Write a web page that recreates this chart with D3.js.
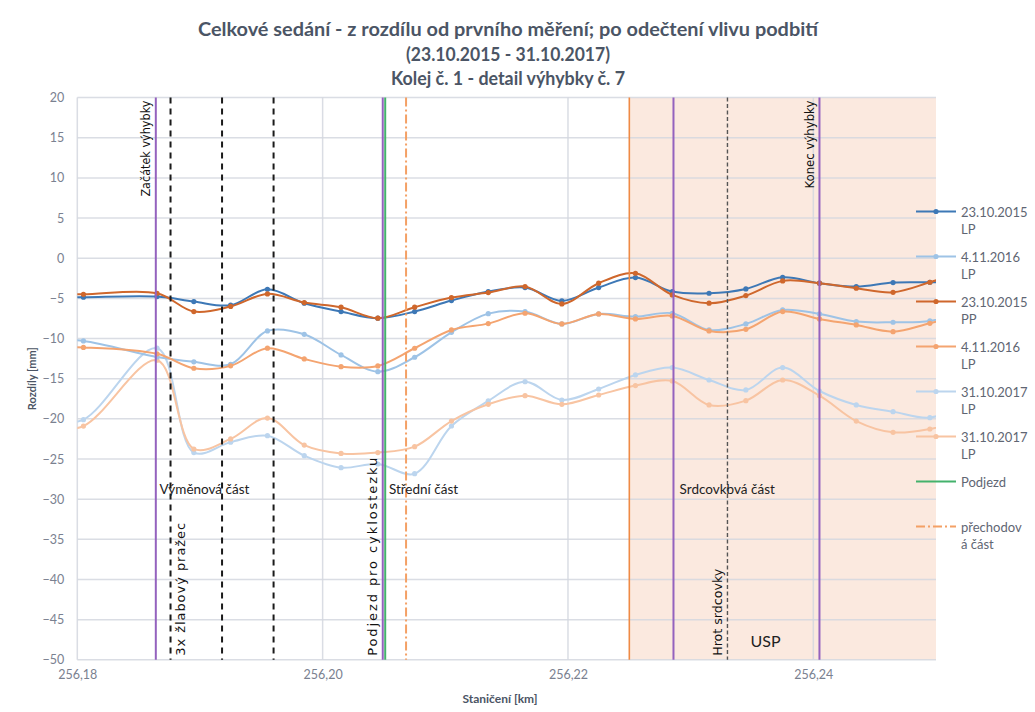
<!DOCTYPE html>
<html><head><meta charset="utf-8">
<script src="https://cdn.jsdelivr.net/npm/d3@7"></script>
<style>
body{margin:0;background:#fff;}
svg{display:block;font-family:Lato,"Open Sans",sans-serif;}
</style></head>
<body><svg id="chart" width="1035" height="712"></svg>
<script>
// ---- data ----
const stations = [256.1775, 256.1805, 256.1865, 256.1895, 256.1925, 256.1955, 256.1985, 256.2015, 256.2045, 256.2075, 256.2105, 256.2135, 256.2165, 256.2195, 256.2225, 256.2255, 256.2285, 256.2315, 256.2345, 256.2375, 256.2405, 256.2435, 256.2465, 256.2495, 256.2525];
const s2015LP = [-4.9, -4.86, -4.78, -5.4, -5.85, -3.86, -5.6, -6.64, -7.47, -6.64, -5.27, -4.15, -3.65, -5.32, -3.65, -2.41, -4.15, -4.36, -3.82, -2.37, -3.11, -3.53, -3.03, -2.99, -2.9];
const s2016LPblue = [-10.2, -10.3, -12.3, -12.9, -13.2, -9.05, -9.47, -12.04, -14.12, -12.33, -9.22, -6.9, -6.64, -8.18, -6.94, -7.27, -6.85, -8.93, -8.18, -6.44, -6.94, -7.89, -7.97, -7.81, -6.5];
const s2015PP = [-4.5, -4.49, -4.36, -6.64, -6.0, -4.44, -5.52, -6.1, -7.47, -6.1, -4.9, -4.28, -3.53, -5.69, -3.11, -1.87, -4.57, -5.6, -4.65, -2.82, -3.11, -3.74, -4.24, -2.99, -1.5];
const s2016LPorange = [-11.1, -11.1, -11.9, -13.7, -13.4, -11.2, -12.54, -13.5, -13.41, -11.21, -8.93, -8.14, -6.85, -8.18, -6.94, -7.56, -7.18, -9.05, -8.85, -6.64, -7.56, -8.31, -9.14, -8.1, -7.0];
const s2017LPblue = [-20.5, -20.1, -11.2, -24.2, -22.9, -22.1, -24.58, -26.08, -25.62, -26.83, -20.89, -17.77, -15.37, -17.65, -16.28, -14.53, -13.62, -15.16, -16.4, -13.62, -16.53, -18.27, -19.1, -19.85, -18.0];
const s2017LPorange = [-21.3, -20.9, -12.7, -23.75, -22.5, -19.9, -23.26, -24.3, -24.2, -23.46, -20.27, -18.19, -17.11, -18.19, -17.03, -15.86, -15.28, -18.27, -17.73, -15.16, -17.11, -20.27, -21.68, -21.26, -20.0];

const seriesNames = ["23.10.2015|LP", "4.11.2016|LP", "23.10.2015|PP", "4.11.2016|LP", "31.10.2017|LP", "31.10.2017|LP"];
const seriesColors = ["#3D78B6", "#9EC3E6", "#CF672C", "#F4A470", "#BCD5EE", "#F8C4A2"];
const seriesValues = [s2015LP, s2016LPblue, s2015PP, s2016LPorange, s2017LPblue, s2017LPorange];

const xTicks = [256.18, 256.20, 256.22, 256.24];
const yTicks = [20, 15, 10, 5, 0, -5, -10, -15, -20, -25, -30, -35, -40, -45, -50];

const purpleLines = [256.1864, 256.2049, 256.2286, 256.2405];
const blackDashed = [256.1876, 256.1918, 256.1960];
const greenLine = [256.2051];
const orangeSolid = [256.2250];
const orangeDashDot = [256.2068];
const grayDashed = [256.2330];
const uspRange = [256.2250, 256.25];

const titleLines = ["Celkové sedání - z rozdílu od prvního měření; po odečtení vlivu podbití", "(23.10.2015 - 31.10.2017)", "Kolej č. 1 - detail výhybky č. 7"];
const rotatedLabels = [
  {t: "Začátek výhybky", km: 256.1864, side: -1, top: true},
  {t: "3x žlabový pražec", km: 256.1876, side: 1, top: false},
  {t: "Podjezd pro cyklostezku", km: 256.2049, side: -1, top: false},
  {t: "Hrot srdcovky", km: 256.2330, side: -1, top: false},
  {t: "Konec výhybky", km: 256.2405, side: -1, top: true}
];
const sectionLabels = [
  {t: "Výměnová část", km: 256.1867, v: -29.3},
  {t: "Střední část", km: 256.2054, v: -29.3},
  {t: "Srdcovkbvá část", km: 256.2291, v: -29.3}
];

// ---- chart ----
const svg = d3.select("#chart");
const L = 77.3, R = 936, T = 97.6, B = 659.8;
const x = d3.scaleLinear().domain([256.18, 256.25]).range([L, R]);
const y = d3.scaleLinear().domain([-50, 20]).range([B, T]);

svg.append("defs").append("clipPath").attr("id", "clip")
  .append("rect").attr("x", L).attr("y", T).attr("width", R - L).attr("height", B - T);

// USP shading
svg.append("rect").attr("x", x(uspRange[0])).attr("y", T)
  .attr("width", x(uspRange[1]) - x(uspRange[0])).attr("height", B - T)
  .attr("fill", "#FBE9DF");

// gridlines
const grid = svg.append("g");
grid.selectAll("line.h").data(yTicks).join("line")
  .attr("x1", L).attr("x2", R).attr("y1", d => y(d)).attr("y2", d => y(d))
  .attr("stroke", "#D3D7DF").attr("stroke-opacity", 0.85).attr("stroke-width", 1.5);
grid.selectAll("line.v").data(xTicks).join("line")
  .attr("y1", T).attr("y2", B).attr("x1", d => x(d)).attr("x2", d => x(d))
  .attr("stroke", "#D3D7DF").attr("stroke-opacity", 0.85).attr("stroke-width", 1.5);

// axes
const yAxis = d3.axisLeft(y).tickValues(yTicks).tickSize(0).tickPadding(13);
const gy = svg.append("g").attr("transform", `translate(${L},0)`).call(yAxis);
gy.select(".domain").remove();
gy.selectAll("text").attr("fill", "#7A8190").attr("font-size", 12.5).attr("font-family", "Lato, sans-serif");

const xAxis = d3.axisBottom(x).tickValues(xTicks).tickSize(0).tickPadding(10)
  .tickFormat(d => d3.format(".2f")(d).replace(".", ","));
const gx = svg.append("g").attr("transform", `translate(0,${B})`).call(xAxis);
gx.select(".domain").remove();
gx.selectAll("text").attr("fill", "#7A8190").attr("font-size", 12.5).attr("font-family", "Lato, sans-serif");

// series
const plot = svg.append("g").attr("clip-path", "url(#clip)");
const line = d3.line().x((d, i) => x(stations[i])).y(d => y(d)).curve(d3.curveCatmullRom.alpha(0.5));
const order = [4, 5, 1, 3, 0, 2];
order.forEach(si => {
  const vals = seriesValues[si];
  plot.append("path").datum(vals).attr("d", line)
    .attr("fill", "none").attr("stroke", seriesColors[si]).attr("stroke-width", 2);
  plot.selectAll(null).data(vals.map((v, i) => [stations[i], v])).join("circle")
    .attr("cx", d => x(d[0])).attr("cy", d => y(d[1])).attr("r", 2.6)
    .attr("fill", seriesColors[si]);
});

// vertical marker lines
const vl = svg.append("g");
function vlines(arr, color, w, dash) {
  vl.selectAll(null).data(arr).join("line")
    .attr("x1", d => x(d)).attr("x2", d => x(d)).attr("y1", T).attr("y2", B)
    .attr("stroke", color).attr("stroke-width", w).attr("stroke-dasharray", dash || null);
}
vlines(orangeSolid, "#EF8A45", 1.6);
vlines(grayDashed, "#555555", 1.4, "4,2.5");
vlines(blackDashed, "#1A1A1A", 2, "6,5");
vlines(orangeDashDot, "#F4A065", 2, "9,3,2,3");
vlines(purpleLines, "#9462BE", 2);
vlines(greenLine, "#44B26C", 2);

// rotated labels
const rotLen = {"Začátek výhybky": 96, "3x žlabový pražec": 133, "Podjezd pro cyklostezku": 198, "Hrot srdcovky": 87, "Konec výhybky": 88};
const rotSize = {"Začátek výhybky": 12, "3x žlabový pražec": 13, "Podjezd pro cyklostezku": 13, "Hrot srdcovky": 12, "Konec výhybky": 12};
const rotAdj = {"Začátek výhybky": "spacingAndGlyphs", "3x žlabový pražec": "spacing", "Podjezd pro cyklostezku": "spacing", "Hrot srdcovky": "spacingAndGlyphs", "Konec výhybky": "spacingAndGlyphs"};
svg.append("g").selectAll("text").data(rotatedLabels).join("text")
  .attr("transform", d => {
    const px = x(d.km) + d.side * 10;
    const py = d.top ? T + 3 : B - 4;
    return `translate(${px},${py}) rotate(-90)`;
  })
  .attr("text-anchor", d => d.top ? "end" : "start")
  .attr("dy", "0.35em")
  .attr("font-family", "DejaVu Sans, Verdana, sans-serif")
  .attr("font-size", d => rotSize[d.t]).attr("fill", "#111")
  .attr("textLength", d => rotLen[d.t]).attr("lengthAdjust", d => rotAdj[d.t])
  .text(d => d.t);

// section labels
svg.append("g").selectAll("text").data(sectionLabels).join("text")
  .attr("x", d => x(d.km)).attr("y", d => y(d.v))
  .attr("font-size", 13.5).attr("fill", "#222")
  .text(d => d.t);

svg.append("text").attr("x", x(256.2361)).attr("y", y(-48.4))
  .attr("text-anchor", "middle").attr("font-size", 16).attr("fill", "#222").text("USP");

// titles
const titleLen = [620, 204, 234];
svg.append("g").selectAll("text").data(titleLines).join("text")
  .attr("x", 508).attr("y", (d, i) => 36 + i * 24.5)
  .attr("text-anchor", "middle").attr("font-weight", "bold").attr("font-size", 18.5)
  .attr("textLength", (d, i) => titleLen[i]).attr("lengthAdjust", "spacingAndGlyphs")
  .attr("fill", "#4B5565").text(d => d);

svg.append("text").attr("transform", `translate(36,${(T + B) / 2}) rotate(-90)`)
  .attr("text-anchor", "middle").attr("font-weight", "bold").attr("font-size", 11)
  .attr("fill", "#4B5565").text("Rozdíly [mm]");
svg.append("text").attr("x", 500).attr("y", 703)
  .attr("text-anchor", "middle").attr("font-weight", "bold").attr("font-size", 12)
  .attr("fill", "#4B5565").text("Staničení [km]");

// legend
const legendItems = seriesNames.map((n, i) => ({label: n.split("|"), color: seriesColors[i], dash: null, marker: true}))
  .concat([{label: ["Podjezd"], color: "#44B26C", dash: null, marker: false},
           {label: ["přechodov", "á část"], color: "#F4A065", dash: "9,3,2,3", marker: false}]);
const lg = svg.append("g").attr("transform", "translate(916,211.5)");
legendItems.forEach((it, i) => {
  const g = lg.append("g").attr("transform", `translate(0,${i * 45})`);
  g.append("line").attr("x1", 0).attr("x2", 40).attr("stroke", it.color).attr("stroke-width", 2)
    .attr("stroke-dasharray", it.dash);
  if (it.marker) g.append("circle").attr("cx", 20).attr("r", 2.6).attr("fill", it.color);
  it.label.forEach((t, j) => {
    g.append("text").attr("x", 45).attr("y", j * 17 + 5).attr("font-size", 13)
      .attr("fill", "#5F6673").text(t);
  });
});
</script></body></html>
